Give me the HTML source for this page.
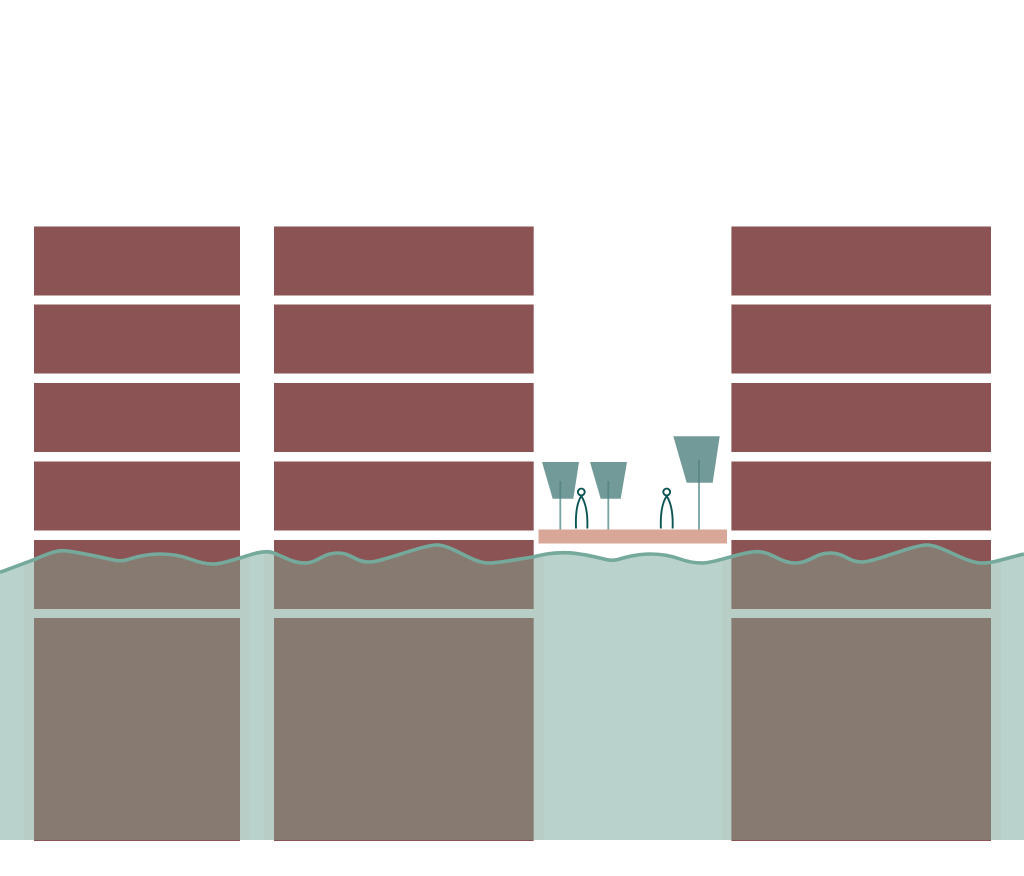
<!DOCTYPE html>
<html><head><meta charset="utf-8"><style>html,body{margin:0;padding:0;background:#fff}svg{display:block}</style></head>
<body>
<svg width="1024" height="876" viewBox="0 0 1024 876" xmlns="http://www.w3.org/2000/svg">
<defs>
<clipPath id="w"><path d="M0 572.3 L33 560 C45 555 54 550.7 63 550.7 C72 550.7 102 557.5 114 560 C118 561 122 561 126 560 C136 557 147 554 160 554 C172 554 182 556 190 559 C198 562 205 564 213 564 C222 564 232 560 240 558 C250 555 258 551.7 267 551.7 C278 551.7 288 563 305 563 C318 563 322 553 338 553 C352 553 354 562 370 562 C382 562 422 545 437 545 C452 545 472 563 488 563 C500 563 518 559 533 557 C545 554 552 552.7 565 552.7 C578 552.7 596 557 606 559.5 C610 560.5 614 560.5 618 559.5 C628 556.5 638 554 650 554 C662 554 672 556 680 559 C688 562 695 563 703 563 C715 563 742 551.7 757 551.7 C772 551.7 780 563 795 563 C810 563 815 553 830 553 C845 553 848 562 862 562 C875 562 912 545 927 545 C942 545 965 563 982 563 C995 563 1010 557 1024 554 L1024 840 L0 840 Z"/></clipPath>
</defs>
<g fill="#8b5353">
<rect x="34" y="226.5" width="206" height="69"/><rect x="34" y="304.5" width="206" height="69"/><rect x="34" y="383" width="206" height="69"/><rect x="34" y="461.5" width="206" height="69"/><rect x="34" y="540" width="206" height="69"/><rect x="34" y="618" width="206" height="223"/>
<rect x="274" y="226.5" width="259.7" height="69"/><rect x="274" y="304.5" width="259.7" height="69"/><rect x="274" y="383" width="259.7" height="69"/><rect x="274" y="461.5" width="259.7" height="69"/><rect x="274" y="540" width="259.7" height="69"/><rect x="274" y="618" width="259.7" height="223"/>
<rect x="731.4" y="226.5" width="259.6" height="69"/><rect x="731.4" y="304.5" width="259.6" height="69"/><rect x="731.4" y="383" width="259.6" height="69"/><rect x="731.4" y="461.5" width="259.6" height="69"/><rect x="731.4" y="540" width="259.6" height="69"/><rect x="731.4" y="618" width="259.6" height="223"/>
</g>
<rect x="538.5" y="529.5" width="188.5" height="14" fill="#d9a797"/>
<g fill="#719a98">
<path d="M542 462H579L573.3 498.7H552.7Z"/>
<path d="M590 462H627L620.7 498.7H600.7Z"/>
<path d="M673.3 436.3H719.7L712.7 482.7H686.7Z"/>
</g>
<g stroke="#76a3a2" stroke-width="1.8" fill="none">
<path d="M560.3 498.7V529.5"/><path d="M608.3 498.7V529.5"/><path d="M699 482.7V529.5"/>
</g>
<g stroke="#588685" stroke-width="1.8" fill="none">
<path d="M560.3 481V498.7"/><path d="M608.3 481V498.7"/><path d="M699 460V482.7"/>
</g>
<g stroke="#0c5553" stroke-width="1.9" fill="none">
<circle cx="581.3" cy="492" r="3.4"/>
<path d="M576 528.5C575.4 514 576.6 503 581.3 496C585.8 503 587.9 514 587.3 528.5"/>
<circle cx="666.7" cy="492" r="3.4"/>
<path d="M660.9 528.5C660.3 514 662 503 666.7 496C671.2 503 673.2 514 672.6 528.5"/>
</g>
<g clip-path="url(#w)">
<rect x="0" y="540" width="1024" height="300" fill="#b9d2cc"/>
<g fill="#b7cdc6">
<rect x="24" y="540" width="10" height="300"/><rect x="240" y="540" width="10" height="300"/><rect x="264" y="540" width="10" height="300"/><rect x="533.7" y="540" width="10" height="300"/><rect x="722" y="540" width="9.4" height="300"/><rect x="991" y="540" width="10" height="300"/>
<rect x="34" y="609" width="206" height="9"/><rect x="274" y="609" width="259.7" height="9"/><rect x="731.4" y="609" width="259.6" height="9"/>
</g>
<g fill="#877b71">
<rect x="34" y="540" width="206" height="69"/><rect x="34" y="618" width="206" height="223"/>
<rect x="274" y="540" width="259.7" height="69"/><rect x="274" y="618" width="259.7" height="223"/>
<rect x="731.4" y="540" width="259.6" height="69"/><rect x="731.4" y="618" width="259.6" height="223"/>
</g>
</g>
<path fill="none" stroke="#74a99c" stroke-width="3.6" d="M0 572.3 L33 560 C45 555 54 550.7 63 550.7 C72 550.7 102 557.5 114 560 C118 561 122 561 126 560 C136 557 147 554 160 554 C172 554 182 556 190 559 C198 562 205 564 213 564 C222 564 232 560 240 558 C250 555 258 551.7 267 551.7 C278 551.7 288 563 305 563 C318 563 322 553 338 553 C352 553 354 562 370 562 C382 562 422 545 437 545 C452 545 472 563 488 563 C500 563 518 559 533 557 C545 554 552 552.7 565 552.7 C578 552.7 596 557 606 559.5 C610 560.5 614 560.5 618 559.5 C628 556.5 638 554 650 554 C662 554 672 556 680 559 C688 562 695 563 703 563 C715 563 742 551.7 757 551.7 C772 551.7 780 563 795 563 C810 563 815 553 830 553 C845 553 848 562 862 562 C875 562 912 545 927 545 C942 545 965 563 982 563 C995 563 1010 557 1024 554"/>
</svg>
</body></html>
